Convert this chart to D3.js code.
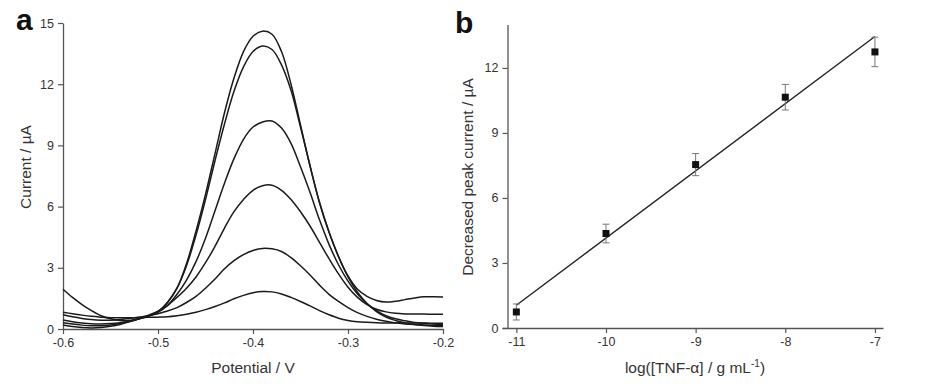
<!DOCTYPE html>
<html><head><meta charset="utf-8">
<script src="https://cdn.jsdelivr.net/npm/d3@7"></script>
<style>
body{margin:0;background:#fff;}
svg{display:block;font-family:"Liberation Sans",Arial,sans-serif;}
</style></head>
<body><svg id="c" width="940" height="390"></svg>
<script>
// ---------- Panel a data ----------
const potential = [-0.60,-0.59,-0.58,-0.57,-0.56,-0.55,-0.54,-0.53,-0.52,-0.51,-0.50,
  -0.49,-0.48,-0.47,-0.46,-0.45,-0.44,-0.43,-0.42,-0.41,-0.40,
  -0.39,-0.38,-0.37,-0.36,-0.35,-0.34,-0.33,-0.32,-0.31,-0.30,
  -0.29,-0.28,-0.27,-0.26,-0.25,-0.24,-0.23,-0.22,-0.21,-0.20];
const curve1 = [1.95,1.55,1.2,0.9,0.65,0.5,0.42,0.42,0.5,0.62,0.85,
  1.3,2.0,3.2,4.8,6.6,8.6,10.6,12.3,13.6,14.35,
  14.6,14.45,13.6,12.0,10.0,8.0,6.2,4.75,3.55,2.55,
  1.8,1.25,0.85,0.58,0.42,0.3,0.22,0.17,0.14,0.12];
const curve2 = [0.44,0.36,0.3,0.26,0.25,0.27,0.31,0.38,0.5,0.65,0.85,
  1.3,2.0,3.1,4.6,6.35,8.25,10.05,11.65,12.85,13.6,
  13.87,13.7,12.95,11.7,9.9,8.0,6.2,4.75,3.55,2.6,
  1.95,1.6,1.4,1.32,1.36,1.44,1.52,1.58,1.58,1.57];
const curve3 = [0.31,0.24,0.19,0.16,0.16,0.2,0.27,0.38,0.5,0.65,0.82,
  1.15,1.7,2.4,3.3,4.45,5.8,7.15,8.35,9.3,9.9,
  10.15,10.2,9.85,9.1,7.95,6.7,5.35,4.15,3.15,2.35,
  1.72,1.25,0.9,0.65,0.5,0.4,0.32,0.28,0.25,0.23];
const curve4 = [0.2,0.12,0.07,0.05,0.07,0.13,0.22,0.35,0.5,0.68,0.88,
  1.15,1.55,2.0,2.55,3.25,4.05,4.95,5.75,6.35,6.8,
  7.02,7.05,6.8,6.35,5.75,5.05,4.25,3.45,2.7,2.05,
  1.55,1.2,0.97,0.84,0.77,0.74,0.73,0.73,0.72,0.72];
const curve5 = [0.7,0.6,0.52,0.46,0.43,0.43,0.46,0.52,0.58,0.65,0.75,
  0.88,1.05,1.3,1.6,2.0,2.45,2.95,3.35,3.65,3.85,
  3.95,3.93,3.8,3.5,3.1,2.65,2.15,1.7,1.35,1.05,
  0.8,0.62,0.48,0.38,0.3,0.25,0.22,0.2,0.18,0.17];
const curve6 = [0.82,0.75,0.68,0.62,0.58,0.55,0.55,0.55,0.56,0.57,0.58,
  0.6,0.65,0.72,0.82,0.95,1.1,1.28,1.48,1.65,1.78,
  1.84,1.82,1.72,1.55,1.35,1.13,0.9,0.7,0.53,0.42,
  0.36,0.33,0.31,0.3,0.3,0.3,0.29,0.29,0.28,0.28];
const curvesA = [curve1, curve2, curve3, curve4, curve5, curve6];
const ticksAx = [-0.6,-0.5,-0.4,-0.3,-0.2];
const ticksAy = [0,3,6,9,12,15];

// ---------- Panel b data ----------
const logConc = [-11,-10,-9,-8,-7];
const peakDecrease = [0.74,4.36,7.54,10.65,12.74];
const errorBars = [0.37,0.43,0.51,0.59,0.68];
const fitX = [-11,-7];
const fitY = [1.05,13.45];
const ticksBx = [-11,-10,-9,-8,-7];
const ticksBy = [0,3,6,9,12];

const svg = d3.select("#c");
const axisColor = "#555";
const textColor = "#333";

function styleAxis(g){
  g.selectAll("path.domain").attr("stroke", axisColor).attr("stroke-width",1.3);
  g.selectAll(".tick line").attr("stroke", axisColor).attr("stroke-width",1.2);
  g.selectAll(".tick text").attr("fill", textColor).style("font-size","12.5px")
    .style("font-family","'Liberation Sans',Arial,sans-serif");
}

// ---------- Panel a ----------
const xA = d3.scaleLinear().domain([-0.6,-0.2]).range([63,443]);
const yA = d3.scaleLinear().domain([0,15]).range([329,23]);
const gA = svg.append("g");
const axAx = gA.append("g").attr("transform","translate(0,329)")
  .call(d3.axisBottom(xA).tickValues(ticksAx).tickSizeInner(5).tickSizeOuter(0).tickPadding(4)
    .tickFormat(d=>d3.format(".1f")(d).replace("−","-")));
styleAxis(axAx);
const axAy = gA.append("g").attr("transform","translate(63,0)")
  .call(d3.axisLeft(yA).tickValues(ticksAy).tickSizeInner(5).tickSizeOuter(0).tickPadding(4));
styleAxis(axAy);

const lineA = d3.line().x((d,i)=>xA(potential[i])).y(d=>yA(d)).curve(d3.curveCatmullRom.alpha(0.5));
gA.selectAll("path.cv").data(curvesA).join("path").attr("class","cv")
  .attr("d", lineA).attr("fill","none").attr("stroke","#1a1a1a").attr("stroke-width",1.5);

gA.append("text").attr("x",253).attr("y",373).attr("text-anchor","middle")
  .attr("fill",textColor).style("font-size","15.5px").text("Potential / V");
gA.append("text").attr("transform","translate(31,167) rotate(-90)").attr("text-anchor","middle")
  .attr("fill",textColor).style("font-size","15.5px").text("Current / µA");
gA.append("text").attr("x",16).attr("y",30).attr("fill","#111")
  .style("font-size","30px").style("font-weight","bold").text("a");

// ---------- Panel b ----------
const xB = d3.scaleLinear().domain([-11.16,-6.91]).range([502,883]);
const yB = d3.scaleLinear().domain([0,14]).range([328,24.6]);
const gB = svg.append("g");
const axBx = gB.append("g").attr("transform","translate(0,328)")
  .call(d3.axisBottom(xB).tickValues(ticksBx).tickSizeInner(5).tickSizeOuter(0).tickPadding(4)
    .tickFormat(d=>String(d)));
styleAxis(axBx);
const axBy = gB.append("g").attr("transform","translate(507.5,0)")
  .call(d3.axisLeft(yB).tickValues(ticksBy).tickSizeInner(5).tickSizeOuter(0).tickPadding(4));
styleAxis(axBy);

gB.append("path").datum(fitX.map((x,i)=>[x,fitY[i]]))
  .attr("d", d3.line().x(d=>xB(d[0])).y(d=>yB(d[1])))
  .attr("fill","none").attr("stroke","#222").attr("stroke-width",1.4);

const pts = logConc.map((x,i)=>({x, y:peakDecrease[i], e:errorBars[i]}));
const eb = gB.selectAll("g.eb").data(pts).join("g").attr("class","eb");
eb.append("line").attr("x1",d=>xB(d.x)).attr("x2",d=>xB(d.x))
  .attr("y1",d=>yB(d.y-d.e)).attr("y2",d=>yB(d.y+d.e)).attr("stroke","#777").attr("stroke-width",1);
eb.append("line").attr("x1",d=>xB(d.x)-3.5).attr("x2",d=>xB(d.x)+3.5)
  .attr("y1",d=>yB(d.y+d.e)).attr("y2",d=>yB(d.y+d.e)).attr("stroke","#777").attr("stroke-width",1);
eb.append("line").attr("x1",d=>xB(d.x)-3.5).attr("x2",d=>xB(d.x)+3.5)
  .attr("y1",d=>yB(d.y-d.e)).attr("y2",d=>yB(d.y-d.e)).attr("stroke","#777").attr("stroke-width",1);
gB.selectAll("rect.pt").data(pts).join("rect").attr("class","pt")
  .attr("x",d=>xB(d.x)-3.5).attr("y",d=>yB(d.y)-3.5).attr("width",7).attr("height",7).attr("fill","#111");

const tB = gB.append("text").attr("x",695).attr("y",373).attr("text-anchor","middle")
  .attr("fill",textColor).style("font-size","15.5px");
tB.append("tspan").text("log([TNF-α] / g mL");
tB.append("tspan").attr("dy",-6).style("font-size","10px").text("-1");
tB.append("tspan").attr("dy",6).text(")");
gB.append("text").attr("transform","translate(473,177) rotate(-90)").attr("text-anchor","middle")
  .attr("fill",textColor).style("font-size","15.5px").text("Decreased peak current / µA");
gB.append("text").attr("x",455).attr("y",33).attr("fill","#111")
  .style("font-size","30px").style("font-weight","bold").text("b");
</script></body></html>
